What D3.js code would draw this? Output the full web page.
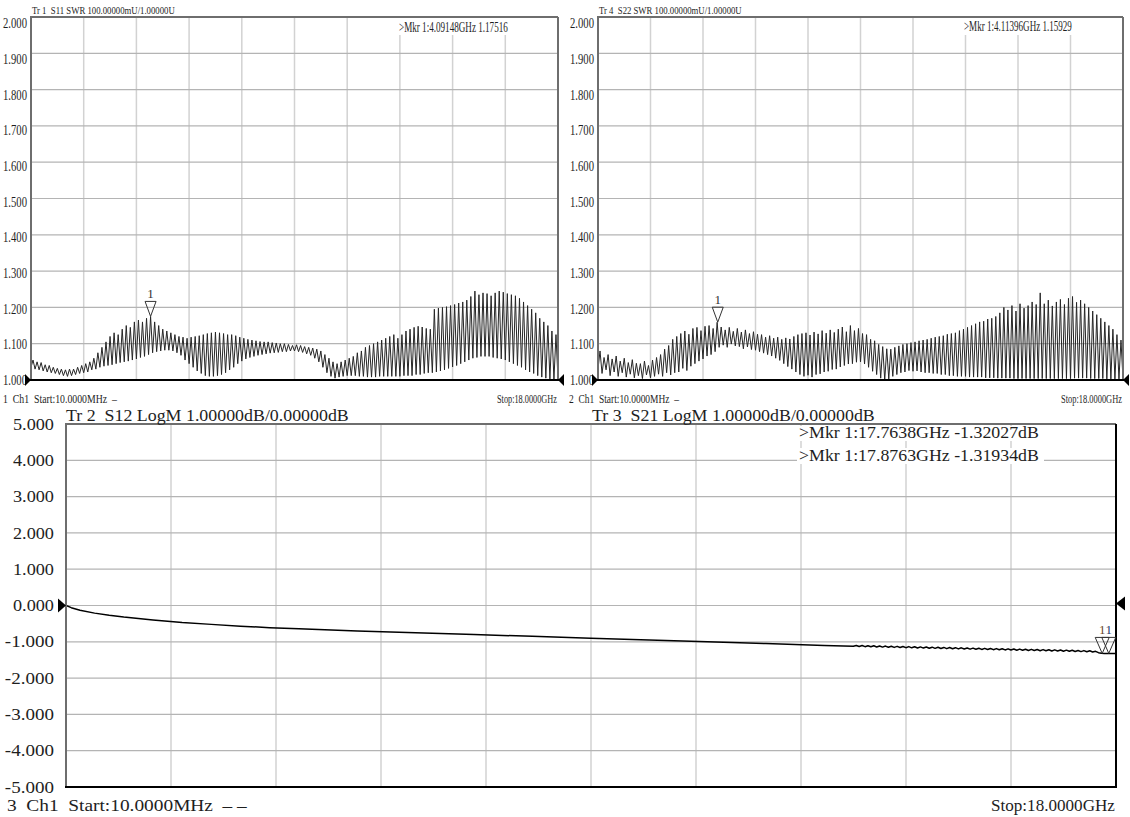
<!DOCTYPE html>
<html><head><meta charset="utf-8">
<script src="https://cdn.jsdelivr.net/npm/d3@7"></script>
<style>
body{margin:0;background:#fff}
svg{display:block}
text{font-family:"Liberation Serif","DejaVu Serif",serif;fill:#1e1e1e;white-space:pre}
</style>
</head><body>
<svg id="c" width="1130" height="817"></svg>
<script>
// ---------------- DATA ----------------
const freqStartGHz = 0.01, freqStopGHz = 18;
const swrTickLabels = ["2.000","1.900","1.800","1.700","1.600","1.500","1.400","1.300","1.200","1.100","1.000"];
const logTickLabels = ["5.000","4.000","3.000","2.000","1.000","0.000","-1.000","-2.000","-3.000","-4.000","-5.000"];

// S11 SWR ripple: peak / trough of each ripple cycle across the sweep
const s11Peaks = [
 1.055,1.050,1.048,1.042,1.040,1.035,1.032,1.030,1.028,1.030,
 1.030,1.035,1.040,1.045,1.050,1.060,1.075,1.090,1.105,1.120,
 1.130,1.125,1.140,1.150,1.145,1.160,1.165,1.160,1.170,1.175,
 1.160,1.150,1.140,1.135,1.130,1.125,1.120,1.118,1.115,1.118,
 1.120,1.122,1.125,1.128,1.130,1.132,1.130,1.128,1.125,1.125,
 1.122,1.118,1.115,1.112,1.110,1.108,1.106,1.105,1.105,1.103,
 1.102,1.100,1.100,1.098,1.095,1.097,1.095,1.092,1.090,1.088,
 1.085,1.080,1.070,1.060,1.050,1.045,1.050,1.055,1.060,1.065,
 1.075,1.080,1.090,1.095,1.100,1.105,1.110,1.115,1.120,1.125,
 1.115,1.125,1.135,1.140,1.145,1.148,1.146,1.142,1.140,1.195,
 1.198,1.200,1.202,1.205,1.208,1.212,1.215,1.220,1.230,1.245,
 1.235,1.240,1.238,1.232,1.240,1.245,1.242,1.238,1.235,1.232,
 1.225,1.215,1.205,1.195,1.185,1.170,1.160,1.150,1.135,1.125];
const s11Troughs = [
 1.035,1.030,1.028,1.025,1.022,1.020,1.018,1.015,1.012,1.010,
 1.012,1.015,1.018,1.020,1.022,1.028,1.030,1.035,1.038,1.040,
 1.042,1.045,1.048,1.050,1.052,1.055,1.058,1.062,1.065,1.070,
 1.075,1.078,1.080,1.082,1.082,1.080,1.075,1.068,1.055,1.045,
 1.035,1.025,1.018,1.012,1.010,1.010,1.012,1.015,1.020,1.028,
 1.035,1.045,1.052,1.058,1.062,1.065,1.068,1.070,1.072,1.074,
 1.075,1.076,1.078,1.078,1.080,1.080,1.078,1.076,1.072,1.068,
 1.060,1.050,1.035,1.020,1.010,1.005,1.008,1.010,1.012,1.012,
 1.012,1.010,1.010,1.008,1.008,1.008,1.010,1.010,1.010,1.010,
 1.010,1.010,1.012,1.012,1.012,1.015,1.015,1.018,1.020,1.020,
 1.022,1.025,1.028,1.032,1.036,1.040,1.045,1.050,1.055,1.060,
 1.062,1.065,1.065,1.065,1.062,1.060,1.058,1.055,1.050,1.045,
 1.040,1.035,1.028,1.022,1.018,1.012,1.008,1.005,1.003,1.002];

// S22 SWR ripple
const s22Peaks = [
 1.080,1.062,1.070,1.058,1.066,1.052,1.060,1.048,1.056,1.046,
 1.045,1.052,1.040,1.055,1.062,1.070,1.085,1.095,1.112,1.120,
 1.128,1.135,1.126,1.142,1.145,1.136,1.148,1.150,1.142,1.159,
 1.146,1.138,1.145,1.134,1.142,1.132,1.138,1.128,1.133,1.126,
 1.125,1.118,1.122,1.115,1.118,1.112,1.116,1.113,1.120,1.125,
 1.128,1.130,1.124,1.132,1.127,1.136,1.129,1.138,1.131,1.140,
 1.146,1.133,1.150,1.136,1.142,1.128,1.125,1.112,1.108,1.098,
 1.092,1.086,1.085,1.090,1.094,1.098,1.100,1.103,1.105,1.108,
 1.110,1.112,1.115,1.118,1.120,1.122,1.126,1.128,1.130,1.136,
 1.140,1.145,1.150,1.155,1.160,1.162,1.168,1.170,1.175,1.185,
 1.200,1.193,1.205,1.190,1.210,1.198,1.205,1.215,1.208,1.240,
 1.210,1.220,1.204,1.215,1.222,1.208,1.225,1.230,1.214,1.220,
 1.210,1.200,1.190,1.180,1.170,1.160,1.150,1.140,1.125,1.110];
const s22Troughs = [
 1.030,1.018,1.028,1.012,1.022,1.010,1.020,1.008,1.016,1.006,
 1.012,1.004,1.014,1.006,1.010,1.016,1.010,1.020,1.014,1.020,
 1.022,1.032,1.026,1.038,1.045,1.052,1.058,1.066,1.070,1.078,
 1.090,1.096,1.090,1.099,1.094,1.092,1.086,1.091,1.084,1.082,
 1.078,1.074,1.070,1.066,1.060,1.054,1.045,1.037,1.030,1.022,
 1.015,1.010,1.013,1.008,1.015,1.017,1.022,1.024,1.029,1.030,
 1.036,1.040,1.044,1.045,1.049,1.050,1.044,1.035,1.024,1.015,
 1.005,1.000,1.003,1.010,1.015,1.020,1.022,1.026,1.024,1.025,
 1.022,1.020,1.020,1.018,1.018,1.015,1.015,1.012,1.012,1.010,
 1.010,1.010,1.008,1.008,1.008,1.008,1.006,1.006,1.006,1.005,
 1.005,1.005,1.005,1.004,1.004,1.004,1.004,1.004,1.004,1.004,
 1.004,1.004,1.004,1.004,1.004,1.004,1.004,1.004,1.005,1.005,
 1.005,1.005,1.004,1.004,1.004,1.004,1.003,1.003,1.003,1.003];

// S12 / S21 LogM (dB): smooth part, then dense tail (13.5 -> 18 GHz, 0.05 GHz steps) with ripple
const s12FreqGHz = [0.01,0.1,0.25,0.5,0.75,1,1.5,2,2.5,3,3.5,4,5,6,7,8,9,10,11,12,13];
const s12dB = [0,-0.06,-0.13,-0.21,-0.27,-0.32,-0.40,-0.47,-0.52,-0.57,-0.61,-0.64,-0.70,-0.75,-0.80,-0.85,-0.90,-0.95,-1.00,-1.05,-1.10];
const s12TailStartGHz = 13.5, s12TailStepGHz = 0.05;
const s12TailDB = [
 -1.125,-1.100,-1.130,-1.104,-1.134,-1.108,-1.138,-1.110,-1.142,-1.114,
 -1.146,-1.118,-1.150,-1.121,-1.154,-1.125,-1.158,-1.128,-1.162,-1.132,
 -1.166,-1.136,-1.170,-1.140,-1.173,-1.144,-1.177,-1.148,-1.181,-1.151,
 -1.185,-1.155,-1.188,-1.158,-1.192,-1.162,-1.196,-1.166,-1.199,-1.170,
 -1.203,-1.173,-1.206,-1.176,-1.210,-1.180,-1.213,-1.184,-1.217,-1.187,
 -1.220,-1.190,-1.224,-1.194,-1.227,-1.198,-1.231,-1.201,-1.234,-1.205,
 -1.238,-1.208,-1.241,-1.212,-1.245,-1.215,-1.248,-1.219,-1.252,-1.222,
 -1.255,-1.226,-1.259,-1.230,-1.262,-1.234,-1.266,-1.238,-1.270,-1.242,
 -1.274,-1.248,-1.280,-1.262,-1.300,-1.318,-1.321,-1.319,-1.320,-1.319,-1.320];

const s11Marker = {f:4.09148, v:1.17516, text:">Mkr 1:4.09148GHz 1.17516"};
const s22Marker = {f:4.11396, v:1.15929, text:">Mkr 1:4.11396GHz 1.15929"};
const s12Markers = [{f:17.7638, v:-1.32027, text:">Mkr 1:17.7638GHz -1.32027dB"},
                    {f:17.8763, v:-1.31934, text:">Mkr 1:17.8763GHz -1.31934dB"}];

// ---------------- DRAW ----------------
const svg = d3.select("#c");
const defs = svg.append("defs");

function ripplePoints(peaks, troughs){
  const n = peaks.length, span = freqStopGHz - freqStartGHz, pts = [];
  for(let i=0;i<n;i++){
    pts.push([freqStartGHz + span*i/n, troughs[i]]);
    pts.push([freqStartGHz + span*(i+0.5)/n, peaks[i]]);
  }
  pts.push([freqStopGHz, troughs[n-1]]);
  return pts;
}
const s12Points = s12FreqGHz.map((f,i)=>[f, s12dB[i]])
  .concat(s12TailDB.map((v,i)=>[s12TailStartGHz + i*s12TailStepGHz, v]));

// text: condensed horizontally to a target width via a scale transform
function txt(g, s, x, y, size, len, anchor){
  const t = g.append("text").attr("x", 0).attr("y", 0).attr("font-size", size).text(s);
  if(anchor) t.attr("text-anchor", anchor);
  let sx = 1;
  if(len){ const w = t.node().getComputedTextLength(); if(w > 0) sx = len / w; }
  t.attr("transform", `translate(${x},${y}) scale(${sx},1)`);
  return t;
}

function triRight(g, x, y, w, h){
  g.append("path").attr("d", `M${x},${y}L${x-w},${y-h}L${x-w},${y+h}Z`).attr("fill","#000");
}
function triLeft(g, x, y, w, h){
  g.append("path").attr("d", `M${x},${y}L${x+w},${y-h}L${x+w},${y+h}Z`).attr("fill","#000");
}

function panel(cfg){
  const g = svg.append("g");
  const x = d3.scaleLinear().domain([freqStartGHz, freqStopGHz]).range([cfg.x0, cfg.x1]);
  const y = d3.scaleLinear().domain(cfg.yDomain).range([cfg.y1, cfg.y0]);
  const nDiv = 10;
  const yVals = d3.range(nDiv+1).map(i => cfg.yDomain[1] - i*(cfg.yDomain[1]-cfg.yDomain[0])/nDiv);
  const xVals = d3.range(1,nDiv).map(i => freqStartGHz + i*(freqStopGHz-freqStartGHz)/nDiv);
  g.selectAll(".vg").data(xVals).join("line")
    .attr("x1", d=>x(d)).attr("x2", d=>x(d)).attr("y1", cfg.y0).attr("y2", cfg.y1)
    .attr("stroke","#d2d2d2").attr("stroke-width",1.5);
  g.selectAll(".hg").data(yVals.slice(1,-1)).join("line")
    .attr("x1", cfg.x0).attr("x2", cfg.x1).attr("y1", d=>y(d)).attr("y2", d=>y(d))
    .attr("stroke","#b4b4b4").attr("stroke-width",1.2);
  const ly = d3.scaleLinear().domain(cfg.yDomain).range([cfg.y1, cfg.y0 + cfg.labelTopShift]);
  cfg.tickLabels.forEach((s,i)=>{
    txt(g, s, cfg.x0 - cfg.labelGap - cfg.labelCharW*s.length, ly(yVals[i]), cfg.labelSize, cfg.labelCharW*s.length)
      .attr("dominant-baseline","central");
  });
  const clipId = "clip" + cfg.id;
  defs.append("clipPath").attr("id", clipId).append("rect")
    .attr("x", cfg.x0).attr("y", cfg.y0).attr("width", cfg.x1-cfg.x0).attr("height", cfg.y1-cfg.y0+1);
  const line = d3.line().x(d=>x(d[0])).y(d=>y(d[1]));
  g.append("path").datum(cfg.points).attr("clip-path", `url(#${clipId})`)
    .attr("d", line).attr("fill","none").attr("stroke", cfg.traceColor).attr("stroke-width", cfg.traceWidth)
    .attr("stroke-linejoin","round");
  g.append("path").attr("d", `M${cfg.x0},${cfg.y1}V${cfg.y0}H${cfg.x1}`).attr("fill","none")
    .attr("stroke","#6e6e6e").attr("stroke-width",2);
  g.append("line").attr("x1",cfg.x1).attr("x2",cfg.x1).attr("y1",cfg.y0).attr("y2",cfg.y1)
    .attr("stroke", cfg.rightColor).attr("stroke-width",2);
  g.append("line").attr("x1",cfg.x0-1).attr("x2",cfg.x1+1).attr("y1",cfg.y1).attr("y2",cfg.y1)
    .attr("stroke","#000").attr("stroke-width",2);
  return {g, x, y};
}

const p1 = panel({id:1, x0:31, x1:558, y0:17, y1:380, yDomain:[1,2], tickLabels:swrTickLabels,
  labelTopShift:6, labelGap:4, labelCharW:4.8, labelSize:15,
  points:ripplePoints(s11Peaks, s11Troughs), traceColor:"#262626", traceWidth:1, rightColor:"#6e6e6e"});
const p2 = panel({id:2, x0:598, x1:1123, y0:17, y1:380, yDomain:[1,2], tickLabels:swrTickLabels,
  labelTopShift:6, labelGap:4, labelCharW:4.8, labelSize:15,
  points:ripplePoints(s22Peaks, s22Troughs), traceColor:"#262626", traceWidth:1, rightColor:"#6e6e6e"});
const p3 = panel({id:3, x0:66, x1:1116, y0:424, y1:787, yDomain:[-5,5], tickLabels:logTickLabels,
  labelTopShift:0, labelGap:12, labelCharW:8.2, labelSize:17,
  points:s12Points, traceColor:"#000", traceWidth:1.5, rightColor:"#000"});

triRight(svg, 31, p1.y(1), 6, 6); triLeft(svg, 558, p1.y(1), 6, 6);
triRight(svg, 598, p2.y(1), 6, 6); triLeft(svg, 1123, p2.y(1), 6, 6);
triRight(svg, 66, p3.y(0), 8, 7); triLeft(svg, 1116, p3.y(0)-2, 9, 7);

txt(svg, "Tr 1  S11 SWR 100.00000mU/1.00000U", 32, 14, 11, 143);
txt(svg, "Tr 4  S22 SWR 100.00000mU/1.00000U", 599, 14, 11, 143);
txt(svg, "1  Ch1  Start:10.0000MHz  \u2013", 3, 403, 12, 114);
txt(svg, "Stop:18.0000GHz", 497, 403, 12, 60);
txt(svg, "2  Ch1  Start:10.0000MHz  \u2013", 569, 403, 12, 110);
txt(svg, "Stop:18.0000GHz", 1061, 403, 12, 61);

function markerBox(g, m, bx, by, bw, bh, tx, ty, size, len){
  g.append("rect").attr("x",bx).attr("y",by).attr("width",bw).attr("height",bh).attr("fill","#fff");
  txt(g, m.text, tx, ty, size, len);
}
markerBox(svg, s11Marker, 397, 18, 114, 17, 399, 32, 14, 109);
markerBox(svg, s22Marker, 962, 18, 113, 17, 964, 31, 14, 108);

function markerTri(g, px, py, w, h, label, labelColor){
  g.append("path").attr("d", `M${px},${py}L${px-w/2},${py-h}L${px+w/2},${py-h}Z`)
    .attr("fill","none").attr("stroke","#333").attr("stroke-width",1);
  txt(g, label, px, py-h-3, 13, null, "middle").style("fill", labelColor || "#333");
}
markerTri(svg, p1.x(s11Marker.f), p1.y(s11Marker.v), 11, 15, "1");
markerTri(svg, p2.x(s22Marker.f), p2.y(s22Marker.v), 11, 15, "1");

txt(svg, "Tr 2  S12 LogM 1.00000dB/0.00000dB", 66, 421, 16, 283);
txt(svg, "Tr 3  S21 LogM 1.00000dB/0.00000dB", 592, 421, 16, 283);
s12Markers.forEach((m,i)=>{
  markerBox(svg, m, 797, 426 + i*22, 247, i===0?15:16, 799, 438 + i*22.5, 16, 240);
});
txt(svg, "3  Ch1  Start:10.0000MHz  \u2013 \u2013", 7, 811, 16, 240);
txt(svg, "Stop:18.0000GHz", 991, 811, 16, 124);

s12Markers.forEach((m,i)=>{
  markerTri(svg, p3.x(m.f), p3.y(m.v), 14, 16, "1", i===0 ? "#6b4a2a" : "#2a3b6b");
});
</script>
</body></html>
